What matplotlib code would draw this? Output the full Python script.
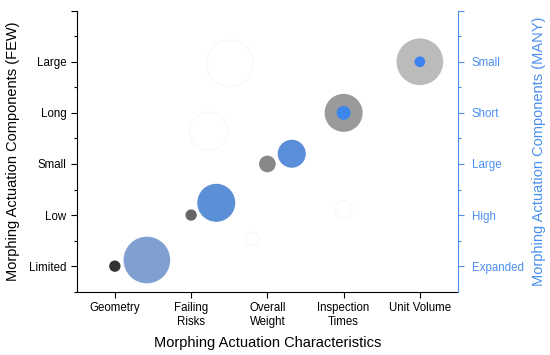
import matplotlib
matplotlib.use("Agg")
from matplotlib import pyplot as plt

plt.rcParams["font.family"] = ["Liberation Sans", "DejaVu Sans"]

characteristics = ["Geometry", "Failing\nRisks", "Overall\nWeight", "Inspection\nTimes", "Unit Volume"]
few_labels = ["Limited", "Low", "Small", "Long", "Large"]
many_labels = ["Expanded", "High", "Large", "Short", "Small"]

# FEW components (left axis)
few_x = [1, 2, 3, 4, 5]
few_y = [1, 2, 3, 4, 5]
few_size = [1.7, 1.7, 2.5, 5.7, 7.0]
few_colors = ["#333333", "#666666", "#888888", "#9a9a9a", "#bbbbbb"]

# MANY components (right axis)
many_x = [1.42, 2.33, 3.32, 4.0, 5.0]
many_y = [1.12, 2.24, 3.2, 4.0, 5.0]
many_size = [7.0, 5.7, 4.2, 2.1, 1.6]
many_colors = ["#7fa0d0", "#5b8fd6", "#5b8ed8", "#3d86ea", "#3b82f0"]

# barely visible white bubbles
ghost_x = [2.51, 2.23, 2.81, 4.0]
ghost_y = [4.97, 3.64, 1.53, 2.12]
ghost_size = [7.0, 5.7, 2.0, 2.5]

scale = 4.8
blue = "#4a8ff0"

fig = plt.figure(figsize=(5.5, 3.55), dpi=100)
ax = fig.add_axes([0.1395, 0.1783, 0.6932, 0.7916])
ax2 = ax.twinx()

ax.scatter(ghost_x, ghost_y, s=[(v * scale) ** 2 for v in ghost_size],
           facecolor="white", edgecolor="#f7f7f7", linewidth=0.7, zorder=1)
ax.scatter(few_x, few_y, s=[(v * scale) ** 2 for v in few_size],
           c=few_colors, linewidth=0, zorder=2)
ax2.scatter(many_x, many_y, s=[(v * scale) ** 2 for v in many_size],
            c=many_colors, linewidth=0, zorder=3)

for a in (ax, ax2):
    a.set_xlim(0.5, 5.5)
    a.set_ylim(0.5, 6)
    a.spines["top"].set_visible(False)

ax.set_xticks(few_x)
ax.set_xticklabels(characteristics, fontsize=8.3)
ax.set_yticks([1, 2, 3, 4, 5, 6])
ax.set_yticklabels(few_labels + [""], fontsize=8.3)
ax.set_yticks([0.5, 1.5, 2.5, 3.5, 4.5, 5.5], minor=True)
ax.tick_params(axis="both", which="major", length=4, width=0.8, direction="out")
ax.tick_params(axis="y", which="minor", length=2.5, width=0.8)
ax.spines["right"].set_visible(False)

ax2.set_yticks([1, 2, 3, 4, 5, 6])
ax2.set_yticklabels(many_labels + [""], fontsize=8.3, color=blue)
ax2.set_yticks([1.5, 2.5, 3.5, 4.5, 5.5], minor=True)
ax2.tick_params(axis="y", which="major", length=4, width=0.8, color=blue, pad=6)
ax2.tick_params(axis="y", which="minor", length=2.5, width=0.8, color=blue)
ax2.spines["right"].set_color(blue)
ax2.spines["left"].set_visible(False)
ax2.spines["bottom"].set_visible(False)

ax.set_xlabel("Morphing Actuation Characteristics", fontsize=10.5, labelpad=6)
ax.set_ylabel("Morphing Actuation Components (FEW)", fontsize=10.5, labelpad=6)
ax2.set_ylabel("Morphing Actuation Components (MANY)", fontsize=10.5, color=blue, labelpad=6)

fig.savefig("out.png", dpi=100)
